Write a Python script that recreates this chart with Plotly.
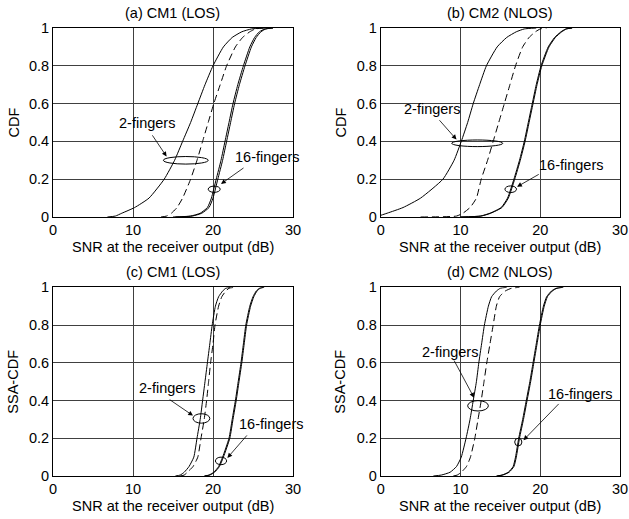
import plotly.graph_objects as go

# ---------------- data ----------------
cdf_levels = [0, 0.005, 0.02, 0.05, 0.1, 0.2, 0.3, 0.4, 0.5, 0.6, 0.7, 0.8, 0.9, 0.95, 0.98, 0.995, 1.0]

# (a) CM1 LOS, CDF  -- SNR (dB) at each CDF level
a_2f_solid_x = [6.8, 7.8, 8.6, 10.2, 12.0, 13.9, 15.2, 16.2, 17.2, 18.1, 19.0, 20.0, 21.3, 22.4, 23.6, 24.8, 26.5]
a_2f_dash_x  = [13.5, 14.2, 14.8, 15.5, 16.2, 17.2, 18.0, 18.7, 19.4, 20.1, 20.9, 21.7, 22.8, 23.7, 24.6, 25.3, 26.3]
a_16_solid_x = [15.0, 17.2, 18.4, 19.3, 19.8, 20.4, 21.0, 21.5, 22.0, 22.5, 23.1, 23.8, 24.6, 25.2, 25.8, 26.5, 27.5]
a_16_dash_x  = [15.3, 17.4, 18.6, 19.5, 20.0, 20.6, 21.2, 21.7, 22.2, 22.7, 23.3, 24.0, 24.8, 25.4, 26.0, 26.6, 27.5]

# (b) CM2 NLOS, CDF
b_2f_solid_x = [-1.0, -0.3, 0.8, 2.8, 5.0, 7.8, 9.2, 10.1, 10.9, 11.6, 12.4, 13.25, 14.6, 15.8, 17.0, 18.0, 19.5]
b_2f_dash_x  = [5.0, 9.5, 10.3, 11.2, 12.0, 12.6, 13.4, 14.1, 14.8, 15.5, 16.2, 16.9, 17.8, 18.6, 19.4, 20.0, 20.8]
b_16_solid_x = [10.0, 12.5, 13.7, 15.1, 15.9, 16.7, 17.4, 18.0, 18.5, 19.0, 19.5, 20.1, 21.0, 21.8, 22.6, 23.2, 24.0]
b_16_dash_x  = [10.0, 12.6, 13.8, 15.2, 16.0, 16.8, 17.5, 18.1, 18.6, 19.1, 19.6, 20.2, 21.1, 21.9, 22.7, 23.3, 24.0]

# (c) CM1 LOS, SSA-CDF
c_2f_solid_x = [15.3, 15.9, 16.4, 17.0, 17.6, 18.0, 18.4, 18.7, 19.0, 19.3, 19.6, 19.9, 20.3, 20.7, 21.2, 21.6, 22.2]
c_2f_dash_x  = [15.9, 16.4, 16.8, 17.5, 18.1, 18.5, 18.9, 19.2, 19.45, 19.7, 20.0, 20.25, 20.7, 21.1, 21.6, 22.0, 22.7]
c_16_solid_x = [18.9, 19.5, 20.1, 20.7, 21.2, 22.0, 22.4, 22.8, 23.15, 23.5, 23.8, 24.1, 24.6, 25.0, 25.4, 25.8, 26.3]
c_16_dash_x  = [19.0, 19.6, 20.2, 20.8, 21.3, 22.1, 22.5, 22.9, 23.25, 23.6, 23.9, 24.2, 24.7, 25.1, 25.5, 25.9, 26.4]

# (d) CM2 NLOS, SSA-CDF
d_2f_solid_x = [6.6, 7.6, 8.7, 9.5, 10.1, 10.7, 11.2, 11.6, 12.0, 12.3, 12.65, 13.0, 13.5, 13.9, 14.5, 15.0, 15.8]
d_2f_dash_x  = [9.1, 9.6, 10.1, 10.75, 11.25, 11.8, 12.2, 12.6, 12.95, 13.3, 13.7, 14.1, 14.5, 14.9, 15.6, 16.4, 17.4]
d_16_solid_x = [14.5, 15.2, 16.0, 16.6, 16.9, 17.3, 17.8, 18.25, 18.7, 19.1, 19.5, 19.9, 20.4, 20.8, 21.4, 22.0, 22.8]
d_16_dash_x  = [14.6, 15.3, 16.1, 16.7, 17.0, 17.4, 17.9, 18.35, 18.8, 19.2, 19.6, 20.0, 20.5, 20.9, 21.5, 22.1, 22.9]

panel_titles = ["(a) CM1 (LOS)", "(b) CM2 (NLOS)", "(c) CM1 (LOS)", "(d) CM2 (NLOS)"]
y_titles = ["CDF", "CDF", "SSA-CDF", "SSA-CDF"]
x_title = "SNR at the receiver output (dB)"
x_ticks = [0, 10, 20, 30]
y_ticks = [0, 0.2, 0.4, 0.6, 0.8, 1]
y_tick_labels = ["0", "0.2", "0.4", "0.6", "0.8", "1"]

# callouts: ellipse center/size, label position, arrow start, arrow tip
ann_2f = [  # (cx, cy, w, h, tx, ty, ax, ay, hx, hy)
    (16.6, 0.30, 5.6, 0.04, 11.7, 0.50, 12.3, 0.44, 14.2, 0.32),
    (12.1, 0.39, 6.4, 0.035, 6.4, 0.57, 7.2, 0.52, 9.5, 0.41),
    (18.55, 0.305, 2.1, 0.05, 14.2, 0.465, 14.4, 0.41, 17.5, 0.32),
    (12.2, 0.372, 2.6, 0.055, 8.7, 0.655, 9.1, 0.62, 11.7, 0.415),
]
ann_16 = [
    (20.15, 0.147, 1.5, 0.033, 26.7, 0.32, 24.0, 0.265, 21.0, 0.175),
    (16.3, 0.147, 1.45, 0.035, 23.9, 0.275, 20.0, 0.23, 17.1, 0.16),
    (21.0, 0.08, 1.4, 0.04, 27.2, 0.276, 24.4, 0.223, 21.8, 0.096),
    (17.25, 0.18, 0.9, 0.04, 25.0, 0.434, 22.5, 0.39, 17.9, 0.19),
]

curves = [
    (a_2f_solid_x, a_2f_dash_x, a_16_solid_x, a_16_dash_x),
    (b_2f_solid_x, b_2f_dash_x, b_16_solid_x, b_16_dash_x),
    (c_2f_solid_x, c_2f_dash_x, c_16_solid_x, c_16_dash_x),
    (d_2f_solid_x, d_2f_dash_x, d_16_solid_x, d_16_dash_x),
]

# ---------------- layout geometry ----------------
W, H = 629, 519
x_doms = [(53 / W, 293 / W), (380.7 / W, 620 / W)]
y_doms = [((519 - 217) / H, (519 - 28) / H), ((519 - 476) / H, (519 - 287.3) / H)]
title_py = [13, 272]
xtitle_py = [247, 506]
ytitle_px = [13, 340]

FONT = "Liberation Sans, Arial, sans-serif"
FS = 14.5

fig = go.Figure()
layout = dict(
    width=W, height=H, margin=dict(l=0, r=0, t=0, b=0, autoexpand=False),
    paper_bgcolor="white", plot_bgcolor="white", showlegend=False,
    font=dict(family=FONT, size=FS, color="black"),
)
annotations = []
shapes = []

for i in range(4):
    r, c = divmod(i, 2)
    xa = "xaxis" if i == 0 else f"xaxis{i+1}"
    ya = "yaxis" if i == 0 else f"yaxis{i+1}"
    xr = "x" if i == 0 else f"x{i+1}"
    yr = "y" if i == 0 else f"y{i+1}"
    layout[xa] = dict(
        domain=list(x_doms[c]), range=[0, 30], anchor=yr, automargin=False,
        tickvals=x_ticks, ticktext=[str(t) for t in x_ticks],
        showgrid=True, gridcolor="#404040", gridwidth=1,
        showline=True, linecolor="black", linewidth=1, mirror=True,
        ticks="", zeroline=False,
        tickfont=dict(size=FS, family=FONT),
    )
    layout[ya] = dict(
        domain=list(y_doms[r]), range=[0, 1], anchor=xr, automargin=False,
        tickvals=y_ticks, ticktext=y_tick_labels,
        showgrid=True, gridcolor="#404040", gridwidth=1,
        showline=True, linecolor="black", linewidth=1, mirror=True,
        ticks="", zeroline=False,
        tickfont=dict(size=FS, family=FONT),
    )
    s2, d2, s16, d16 = curves[i]
    for xs, dash in [(s2, "solid"), (d2, "7px,4px"), (s16, "solid"), (d16, "solid")]:
        fig.add_trace(go.Scatter(
            x=xs, y=cdf_levels, mode="lines", xaxis=xr, yaxis=yr,
            line=dict(color="black", width=1, dash=dash, shape="spline", smoothing=0.5),
            hoverinfo="skip",
        ))
    xc = (x_doms[c][0] + x_doms[c][1]) / 2
    annotations.append(dict(text=panel_titles[i], x=xc, y=1 - title_py[r] / H, xref="paper", yref="paper",
                            showarrow=False, font=dict(size=FS), xanchor="center", yanchor="middle"))
    annotations.append(dict(text=x_title, x=xc, y=1 - xtitle_py[r] / H, xref="paper", yref="paper",
                            showarrow=False, font=dict(size=FS), xanchor="center", yanchor="middle"))
    yc = (y_doms[r][0] + y_doms[r][1]) / 2
    annotations.append(dict(text=y_titles[i], x=ytitle_px[c] / W, y=yc, xref="paper", yref="paper",
                            showarrow=False, textangle=-90, font=dict(size=FS), xanchor="center", yanchor="middle"))
    for label, ann in (("2-fingers", ann_2f[i]), ("16-fingers", ann_16[i])):
        cx, cy, w, h, tx, ty, ax, ay, hx, hy = ann
        shapes.append(dict(type="circle", xref=xr, yref=yr, x0=cx - w / 2, x1=cx + w / 2,
                           y0=cy - h / 2, y1=cy + h / 2, line=dict(color="black", width=1)))
        annotations.append(dict(text=label, x=tx, y=ty, xref=xr, yref=yr, showarrow=False,
                                font=dict(size=FS), xanchor="center", yanchor="middle"))
        annotations.append(dict(text="", x=hx, y=hy, ax=ax, ay=ay, xref=xr, yref=yr, axref=xr, ayref=yr,
                                showarrow=True, arrowhead=2, arrowsize=1.2, arrowwidth=0.8, arrowcolor="black"))

layout["annotations"] = annotations
layout["shapes"] = shapes
fig.update_layout(**layout)
fig.write_html("out.html", config={"displayModeBar": False},
               post_script="document.body.style.margin='0';document.body.style.overflow='hidden';")
